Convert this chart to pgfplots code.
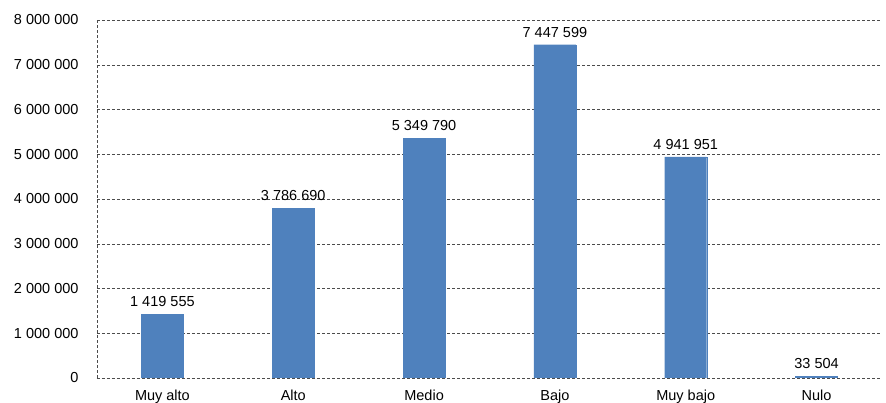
\documentclass[border=0pt]{standalone}
\usepackage{pgfplots}
\pgfplotsset{compat=1.18}
\usepackage{fontspec}
\setmainfont{Liberation Sans}
\definecolor{barblue}{HTML}{4F81BD}
\begin{document}
\begin{tikzpicture}[x=1pt,y=1pt]
\useasboundingbox (-97,-25) rectangle (789,378);
\begin{axis}[
  at={(0,0)}, anchor=south west,
  scale only axis, width=785pt, height=358pt,
  ymin=0, ymax=8000000,
  xmin=-0.5, xmax=5.5,
  ytick={0,1000000,...,8000000},
  xtick=data,
  xticklabels={Muy alto,Alto,Medio,Bajo,Muy bajo,Nulo},
  axis x line*=bottom, axis y line*=left,
  axis line style={draw=black!70, dash pattern=on 3pt off 2pt, -},
  ymajorgrids,
  major grid style={draw=black!70, dash pattern=on 3pt off 2pt},
  major tick length=0pt,
  scaled y ticks=false,
  /pgf/number format/.cd, fixed, precision=0, 1000 sep={\ }, assume math mode=true,
  /pgfplots/.cd,
  tick label style={font=\fontsize{14.5}{16}\selectfont, text=black},
  yticklabel style={xshift=-15pt},
  xticklabel style={yshift=-8pt},
  ybar, bar width=42pt,
  nodes near coords,
  every node near coord/.append style={font=\fontsize{14.5}{16}\selectfont, text=black, yshift=4pt},
]
\addplot[fill=barblue, draw=barblue] coordinates {
  (0,1419555) (1,3786690) (2,5349790) (3,7447599) (4,4941951) (5,33504)
};
\end{axis}
\end{tikzpicture}
\end{document}
